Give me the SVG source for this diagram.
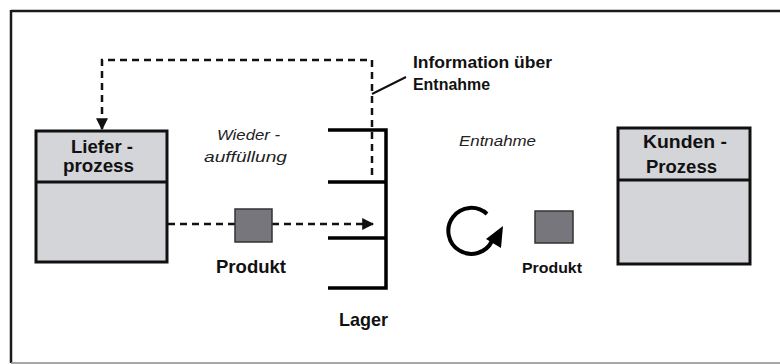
<svg xmlns="http://www.w3.org/2000/svg" width="780" height="364" viewBox="0 0 780 364">
  <style>
    .frame { fill: none; stroke: #1a1a1a; stroke-width: 2.5; }
    .box { fill: #d4d5d9; stroke: #111; stroke-width: 3; }
    .div { stroke: #111; stroke-width: 3; }
    .item { fill: #76767c; stroke: #333; stroke-width: 1.5; }
    .dash { fill: none; stroke: #111; stroke-width: 2.5; stroke-dasharray: 7 5; }
    .shelf { fill: none; stroke: #000; stroke-width: 3.5; }
    .lbl { font-family: "Liberation Sans", Arial, sans-serif; font-weight: bold; fill: #111; }
    .it { font-family: "Liberation Sans", Arial, sans-serif; font-style: italic; fill: #222; }
  </style>
  <defs>
    <marker id="arrowBig" viewBox="0 0 10 10" refX="9" refY="5" markerWidth="12" markerHeight="12" orient="auto" markerUnits="userSpaceOnUse">
      <path d="M0,0 L10,5 L0,10 z" fill="#111"/>
    </marker>
  </defs>

  <!-- outer frame -->
  <g id="frame">
    <line class="frame" x1="11" y1="11" x2="780" y2="11"/>
    <line class="frame" x1="11" y1="10" x2="11" y2="363"/>
    <line x1="11" y1="363" x2="780" y2="363" stroke="#8a8a8a" stroke-width="1.5"/>
  </g>

  <!-- connectors -->
  <g id="connectors">
    <polyline class="dash" points="372,175 372,60 102,60 102,122"/>
    <path d="M102,120 L102,129" stroke="#111" stroke-width="2.5" marker-end="url(#arrowBig)"/>
    <line class="dash" x1="168" y1="224" x2="235" y2="224"/>
    <line class="dash" x1="272" y1="224" x2="366" y2="224"/>
    <path d="M364,224 L373,224" stroke="#111" stroke-width="2.5" marker-end="url(#arrowBig)"/>
    <line x1="372" y1="94" x2="406" y2="77" stroke="#111" stroke-width="2"/>
  </g>

  <!-- supplier process -->
  <g id="liefer">
    <rect class="box" x="36" y="131" width="131" height="131"/>
    <line class="div" x1="36" y1="182" x2="167" y2="182"/>
    <text class="lbl" x="71" y="153" font-size="19" textLength="62" lengthAdjust="spacingAndGlyphs">Liefer -</text>
    <text class="lbl" x="63" y="172" font-size="19" textLength="71" lengthAdjust="spacingAndGlyphs">prozess</text>
  </g>

  <!-- customer process -->
  <g id="kunden">
    <rect class="box" x="618" y="128" width="132" height="136"/>
    <line class="div" x1="618" y1="180" x2="750" y2="180"/>
    <text class="lbl" x="643" y="148" font-size="19" textLength="84" lengthAdjust="spacingAndGlyphs">Kunden -</text>
    <text class="lbl" x="646" y="173" font-size="19" textLength="71" lengthAdjust="spacingAndGlyphs">Prozess</text>
  </g>

  <!-- storage shelf -->
  <g id="lager">
    <path class="shelf" d="M328,130 H386 V288 H328 M328,182 H386 M328,238 H386"/>
    <text class="lbl" x="339" y="326" font-size="19" textLength="49" lengthAdjust="spacingAndGlyphs">Lager</text>
  </g>

  <!-- product in transit -->
  <g id="produkt-links">
    <rect class="item" x="235" y="209" width="37" height="33"/>
    <text class="lbl" x="216" y="273" font-size="18" textLength="70" lengthAdjust="spacingAndGlyphs">Produkt</text>
  </g>

  <!-- product withdrawn -->
  <g id="produkt-rechts">
    <rect class="item" x="535" y="211" width="38" height="32"/>
    <text class="lbl" x="522" y="273" font-size="15" textLength="60" lengthAdjust="spacingAndGlyphs">Produkt</text>
  </g>

  <!-- withdrawal cycle symbol -->
  <g id="zyklus">
    <path d="M487,214 A23,23 0 1 0 492,241" fill="none" stroke="#000" stroke-width="4"/>
    <polygon points="503,226 486,239 501,248" fill="#000"/>
  </g>

  <!-- labels -->
  <g id="labels">
    <text class="it" x="217" y="140" font-size="15.5" textLength="63" lengthAdjust="spacingAndGlyphs">Wieder -</text>
    <text class="it" x="204" y="162" font-size="15.5" textLength="83" lengthAdjust="spacingAndGlyphs">auffüllung</text>
    <text class="it" x="459" y="146" font-size="15.5" textLength="77" lengthAdjust="spacingAndGlyphs" fill="#333">Entnahme</text>
    <text class="lbl" x="413" y="68" font-size="16.5" textLength="139" lengthAdjust="spacingAndGlyphs">Information  über</text>
    <text class="lbl" x="413" y="90" font-size="16.5" textLength="77" lengthAdjust="spacingAndGlyphs">Entnahme</text>
  </g>
</svg>
